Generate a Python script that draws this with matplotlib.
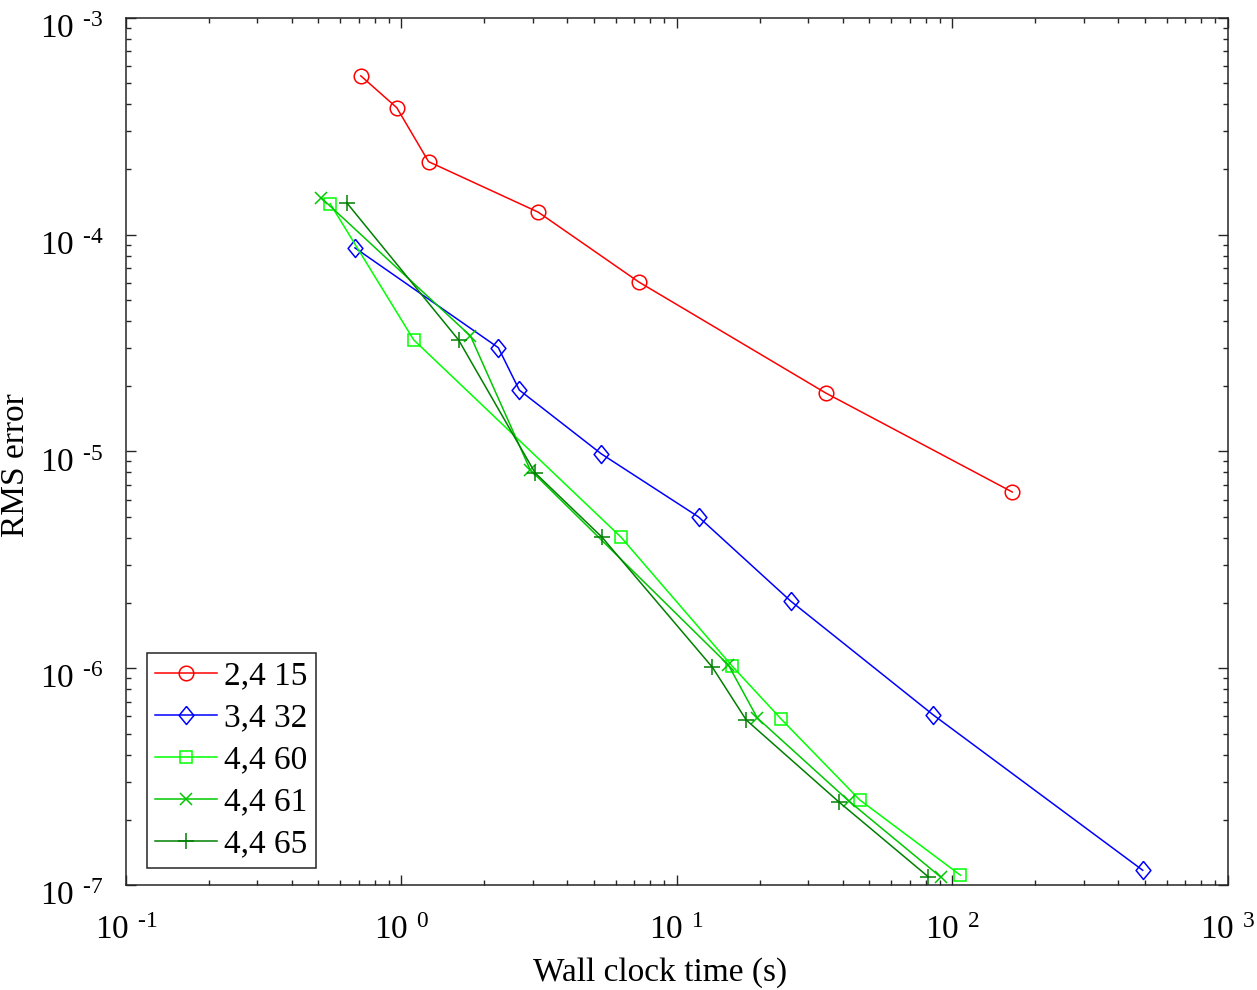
"""RMS error vs wall clock time for several schemes (log-log)."""

import math

import matplotlib
matplotlib.use("Agg")
import matplotlib.pyplot as plt
from matplotlib.ticker import LogLocator, FuncFormatter, NullFormatter
from matplotlib.transforms import ScaledTranslation

plt.rcParams["font.family"] = "Liberation Serif"
plt.rcParams["mathtext.fontset"] = "custom"
plt.rcParams["mathtext.rm"] = "Liberation Serif"
plt.rcParams["mathtext.it"] = "Liberation Serif"

# 2,4 15
t_a = [0.712, 0.962, 1.255, 3.136, 7.27, 34.7, 165]
e_a = [5.40e-4, 3.85e-4, 2.17e-4, 1.27e-4, 6.05e-5, 1.86e-5, 6.50e-6]
# 3,4 32
t_b = [0.678, 2.248, 2.678, 5.32, 11.98, 25.9, 85.4, 491]
e_b = [8.69e-5, 3.01e-5, 1.92e-5, 9.74e-6, 4.99e-6, 2.04e-6, 6.08e-7, 1.17e-7]
# 4,4 60
t_c = [0.551, 1.108, 6.26, 15.90, 23.9, 46.1, 107]
e_c = [1.39e-4, 3.27e-5, 4.03e-6, 1.02e-6, 5.83e-7, 2.47e-7, 1.11e-7]
# 4,4 61
t_d = [0.511, 1.781, 2.935, 15.38, 19.58, 42.1, 90.6]
e_d = [1.48e-4, 3.41e-5, 8.22e-6, 1.035e-6, 5.90e-7, 2.44e-7, 1.09e-7]
# 4,4 65
t_e = [0.634, 1.612, 3.058, 5.34, 13.46, 17.86, 38.7, 81.9]
e_e = [1.40e-4, 3.27e-5, 7.96e-6, 4.03e-6, 1.01e-6, 5.77e-7, 2.42e-7, 1.09e-7]

labels = ["2,4 15", "3,4 32", "4,4 60", "4,4 61", "4,4 65"]
colors = ["#ff0000", "#0000ff", "#00ff00", "#00c800", "#008000"]

# MATLAB-style diamond (taller than wide)
diamond = [(0, 1), (0.82, 0), (0, -1), (-0.82, 0), (0, 1)]
markers = ["o", diamond, "s", "x", "+"]
msizes = [10.5, 13, 9, 8.5, 11]

fig = plt.figure(figsize=(12.57, 9.90), dpi=100)
ax = fig.add_axes([0.1002, 0.106, 0.8766, 0.876])

data = [(t_a, e_a), (t_b, e_b), (t_c, e_c), (t_d, e_d), (t_e, e_e)]
for (t, e), lab, col, mk, ms in zip(data, labels, colors, markers, msizes):
    ax.plot(t, e, color=col, marker=mk, markersize=ms,
            markerfacecolor="none", markeredgecolor=col,
            markeredgewidth=1.1, linewidth=1.1, label=lab)

ax.set_xscale("log")
ax.set_yscale("log")
ax.set_xlim(0.1, 1000)
ax.set_ylim(1e-7, 1e-3)


def sci(v, _):
    p = int(round(math.log10(v)))
    s = r"\text{-}%d" % abs(p) if p < 0 else "%d" % p
    return r"$\mathrm{10}^{\,\ %s}$" % s


ax.xaxis.set_major_locator(LogLocator(base=10, numticks=10))
ax.yaxis.set_major_locator(LogLocator(base=10, numticks=10))
ax.xaxis.set_minor_locator(LogLocator(base=10, subs=range(2, 10), numticks=20))
ax.yaxis.set_minor_locator(LogLocator(base=10, subs=range(2, 10), numticks=20))
ax.xaxis.set_major_formatter(FuncFormatter(sci))
ax.yaxis.set_major_formatter(FuncFormatter(sci))
ax.xaxis.set_minor_formatter(NullFormatter())
ax.yaxis.set_minor_formatter(NullFormatter())

ax.tick_params(which="both", direction="in", top=True, right=True,
               labelsize=24, color="#262626", width=1.0)
ax.tick_params(which="major", length=7.2)
ax.tick_params(which="minor", length=3.6)
ax.tick_params(axis="x", pad=22)
ax.tick_params(axis="y", pad=16)
for sp in ax.spines.values():
    sp.set_linewidth(1.1)
    sp.set_color("#262626")

# nudge y tick labels down a little, as in the original
shift = ScaledTranslation(0, -6 / 72, fig.dpi_scale_trans)
for lbl in ax.get_yticklabels():
    lbl.set_transform(lbl.get_transform() + shift)

ax.set_xlabel("Wall clock time (s)", fontsize=24)
ax.set_ylabel("RMS error", fontsize=24)
ax.xaxis.set_label_coords(0.4846, -0.083)
ax.yaxis.set_label_coords(-0.086, 0.484)

leg = ax.legend(loc="lower left", fontsize=24, handlelength=1.86,
                handletextpad=0.2, labelspacing=0.345, borderpad=0.25,
                borderaxespad=0, fancybox=False, framealpha=1,
                edgecolor="#262626", bbox_to_anchor=(0.019, 0.0196))
leg.get_frame().set_linewidth(1.1)

fig.savefig("out.png", dpi=100, facecolor="white")
